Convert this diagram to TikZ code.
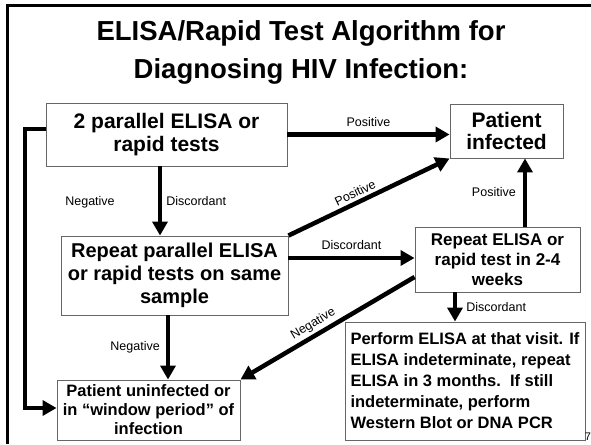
\documentclass[tikz,border=0pt]{standalone}
\usepackage{fontspec}
\setmainfont{Liberation Sans}
\usetikzlibrary{arrows.meta,calc}
\begin{document}
\begin{tikzpicture}[x=1pt,y=-1pt,
  box/.style={draw=black!60, line width=0.9pt, fill=white, inner sep=0pt, align=center, font=\bfseries},
  arr/.style={line width=4.5pt, -{Triangle[width=15pt,length=14pt]}},
  lnk/.style={line width=4.5pt, line join=miter},
  lbl/.style={font=\fontsize{12.5}{14}\selectfont, inner sep=1pt}]
\useasboundingbox (0,0) rectangle (591,444);
\fill[white] (0,0) rectangle (591,444);
\draw[line width=2.5pt] (7.5,444) -- (7.5,5.3) -- (591,5.3);
\node[font=\bfseries\fontsize{27.5}{38}\selectfont, align=center] (title) at (301,52)
  {ELISA/Rapid Test Algorithm for\\Diagnosing HIV Infection:};
% boxes
\node[box, minimum width=241, minimum height=63, font=\bfseries\fontsize{21}{23}\selectfont] (b1) at (166.5,134.5)
  {2 parallel ELISA or\\rapid tests};
\node[box, minimum width=113, minimum height=54, font=\bfseries\fontsize{21}{22}\selectfont] (pi) at (506.5,131)
  {Patient\\infected};
\node[box, minimum width=227, minimum height=79, font=\bfseries\fontsize{20}{23}\selectfont] (b2) at (174.5,275.5)
  {Repeat parallel ELISA\\or rapid tests on same\\sample};
\node[box, minimum width=165, minimum height=65, font=\bfseries\fontsize{17}{20}\selectfont] (b3) at (497.5,259.5)
  {Repeat ELISA or\\rapid test in 2-4\\weeks};
\node[box, minimum width=183, minimum height=60, font=\bfseries\fontsize{16.5}{19}\selectfont] (b4) at (148.5,410)
  {Patient uninfected or\\in ``window period'' of\\infection};
\node[box, minimum width=240, minimum height=118, align=left, font=\bfseries\fontsize{16.5}{21}\selectfont] (b5) at (465,381)
  {Perform ELISA at that visit. If\\ELISA indeterminate, repeat\\ELISA in 3 months.\ \ If still\\indeterminate, perform\\Western Blot or DNA PCR};
\node[font=\fontsize{11}{12}\selectfont, inner sep=0pt] (pg) at (588,437) {7};
% helper coordinates
\coordinate (xa) at (160,0);
\coordinate (xb) at (168,0);
\coordinate (xc) at (455,0);
\coordinate (xd) at (525,0);
\coordinate (ya) at (0,129);
\coordinate (yb) at (0,258);
\coordinate (yc) at (0,277);
\coordinate (yd) at (0,408);
\coordinate (xl) at (25,0);
% connectors
\draw[arr] (b1.east) -- (b1.east -| pi.west) node[lbl, midway, above=5pt] {Positive};
\draw[arr] (b1.south -| xa) -- (b2.north -| xa) node[lbl, midway, right=3pt] {Discordant};
\draw[arr] (b2.north east) -- (pi.south west) node[lbl, pos=0.44, above=2pt, sloped] {Positive};
\draw[arr] (b2.east |- yb) -- (b3.west |- yb) node[lbl, midway, above=5pt] {Discordant};
\draw[arr] (b3.north -| xd) -- (pi.south -| xd) node[lbl, midway, left=6pt] {Positive};
\draw[arr] (b3.west |- yc) -- (b4.north east) node[lbl, pos=0.55, above=2pt, sloped] {Negative};
\draw[arr] (b2.south -| xb) -- (b4.north -| xb) node[lbl, midway, left=5pt] {Negative};
\draw[arr] (b3.south -| xc) -- (b5.north -| xc) node[lbl, midway, right=8pt] {Discordant};
\draw[lnk] (b1.west |- ya) -- (xl |- ya) -- (xl |- yd);
\draw[arr] ($(xl |- yd)+(-2.25,0)$) -- (b4.west |- yd);
\node[lbl] (neg1) at (90,202) {Negative};
\end{tikzpicture}
\end{document}
